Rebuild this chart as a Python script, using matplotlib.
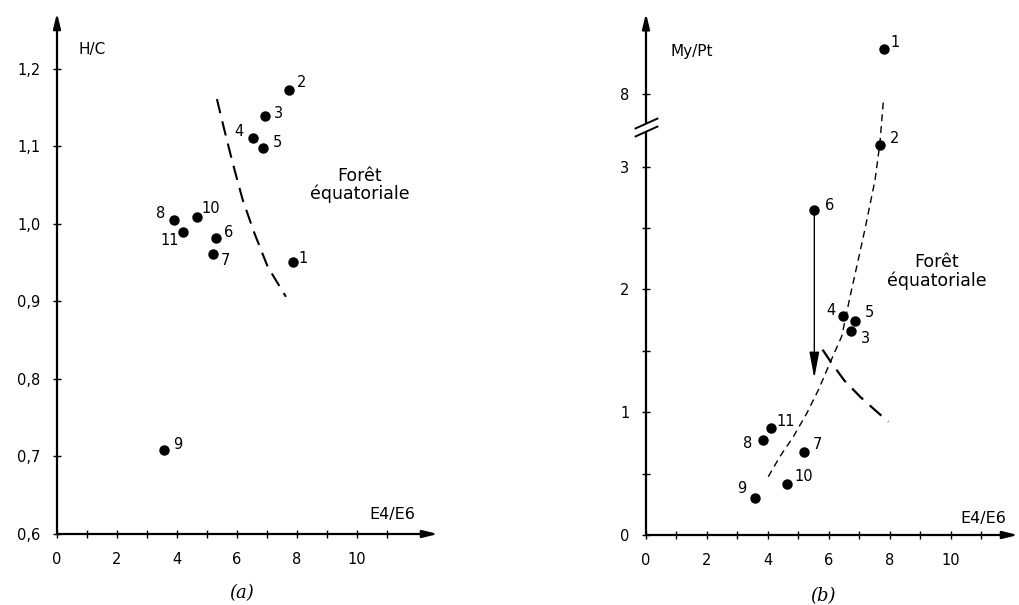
import numpy as np
import matplotlib.pyplot as plt
from matplotlib.ticker import FixedLocator

plt.rcParams['font.family'] = ['DejaVu Sans']

# numeros des echantillons
ids = ['1', '2', '3', '4', '5', '6', '7', '8', '9', '10', '11']

# (a) H/C en fonction de E4/E6
a_e4e6 = [7.85, 7.74, 6.92, 6.54, 6.85, 5.29, 5.19, 3.89, 3.56, 4.67, 4.21]
a_hc = [0.951, 1.173, 1.139, 1.111, 1.098, 0.982, 0.961, 1.005, 0.708, 1.009, 0.989]
a_limit_x = [5.33, 5.58, 5.86, 6.19, 6.58, 7.02, 7.63]
a_limit_y = [1.161, 1.121, 1.078, 1.031, 0.988, 0.945, 0.906]

# (b) My/Pt en fonction de E4/E6
b_e4e6 = [7.79, 7.66, 6.71, 6.45, 6.84, 5.52, 5.18, 3.83, 3.57, 4.64, 4.09]
b_mypt = [8.37, 3.18, 1.663, 1.787, 1.747, 2.646, 0.679, 0.774, 0.304, 0.418, 0.87]
b_trend_x = [4.01, 4.39, 4.83, 5.27, 5.65, 6.03, 6.42, 6.69, 6.95, 7.18,
             7.51, 7.67, 7.79]
b_trend_y = [0.475, 0.638, 0.80, 0.99, 1.18, 1.40, 1.62, 1.94, 2.23, 2.49,
             2.89, 3.19, 7.96]
b_limit_x = [5.79, 6.09, 6.5, 7.02, 7.5, 7.95]
b_limit_y = [1.51, 1.40, 1.26, 1.127, 1.02, 0.923]
b_shift_to = 1.277  # fleche depuis l'echantillon 6

a_yticks = [0.6, 0.7, 0.8, 0.9, 1.0, 1.1, 1.2]
a_ylabels = ['0,6', '0,7', '0,8', '0,9', '1,0', '1,1', '1,2']
b_yticks = [0, 1, 2, 3, 8]
b_ylabels = ['0', '1', '2', '3', '8']
b_yminor = [0.5, 1.5, 2.5]
xticks = [0, 2, 4, 6, 8, 10]
xminor = [1, 3, 5, 7, 9, 11]

# decalage des numeros (pixels, x vers la droite, y vers le bas)
a_off = [(11, -3), (12, -7), (14, -3), (-14, -6), (15, -5), (13, -5),
         (13, 6), (-13, -7), (14, -6), (14, -8), (-14, 8)]
b_off = [(12, -6), (15, -6), (15, 8), (-12, -5), (15, -8), (15, -5),
         (13, -7), (-15, 4), (-13, -9), (16, -7), (15, -7)]

# echelle coupee sur l'axe y de (b)
brk_lo, brk_hi = 3.29, 7.77
yb = [-100, brk_lo, brk_hi, 100]
ub = [-100, brk_lo, 3.36, 3.36 + 100 - brk_hi]


def fwd(y):
    return np.interp(y, yb, ub)


def inv(u):
    return np.interp(u, ub, yb)


fig = plt.figure(figsize=(10.19, 6.05), dpi=100)
ax1 = fig.add_axes([57 / 1019, 71 / 605, 381 / 1019, 521 / 605])
ax2 = fig.add_axes([646 / 1019, 70 / 605, 372 / 1019, 521.7 / 605])

arrow = dict(arrowstyle='-|>,head_length=0.9,head_width=0.22', color='k',
             lw=1.6, shrinkA=0, shrinkB=0)

for ax in (ax1, ax2):
    for s in ax.spines.values():
        s.set_visible(False)
    ax.set_xlim(0, 12.7 if ax is ax1 else 12.2)
    ax.set_xticks(xticks)
    ax.xaxis.set_minor_locator(FixedLocator(xminor))
    ax.tick_params(which='both', direction='inout', length=6, width=1,
                   labelsize=10.5, pad=9)
    ax.tick_params(axis='x', pad=10)
    ax.annotate('', xy=(1, 0), xytext=(0, 0), xycoords='axes fraction',
                arrowprops=arrow)

# ---- (a)
ax1.set_ylim(0.6, 1.272)
ax1.set_yticks(a_yticks)
ax1.set_yticklabels(a_ylabels)
ax1.annotate('', xy=(0, 1), xytext=(0, 0), xycoords='axes fraction',
             arrowprops=arrow)
ax1.plot(a_limit_x, a_limit_y, color='k', lw=1.5, dashes=(7, 4))
ax1.plot(a_e4e6, a_hc, 'o', color='k', ms=6.5)
for i, x, y, (dx, dy) in zip(ids, a_e4e6, a_hc, a_off):
    ax1.annotate(i, (x, y), xytext=(dx, -dy), textcoords='offset pixels',
                 ha='center', va='center', fontsize=10.5)
ax1.text(0.7, 1.225, 'H/C', fontsize=11, va='center')
ax1.text(11.95, 0.625, 'E4/E6', fontsize=11.5, ha='right', va='center')
ax1.text(10.1, 1.05, 'Forêt\néquatoriale', fontsize=12.5, ha='center',
         va='center', linespacing=1.0)

# ---- (b)
ax2.set_yscale('function', functions=(fwd, inv))
ax2.set_ylim(0, 8.66)
ax2.set_yticks(b_yticks)
ax2.set_yticklabels(b_ylabels)
ax2.yaxis.set_minor_locator(FixedLocator(b_yminor))
ax2.plot([0, 0], [0, brk_lo], color='k', lw=1.6, clip_on=False,
         solid_capstyle='butt')
ax2.annotate('', xy=(0, 1), xycoords='axes fraction', xytext=(0, brk_hi),
             textcoords='data', arrowprops=arrow)
slash = [(-1, -0.45), (1, 0.45)]
ax2.plot([0, 0], [brk_lo, brk_hi], ls='none', marker=slash, ms=17,
         mec='k', mew=1.4, clip_on=False)

ax2.plot(b_trend_x, b_trend_y, color='k', lw=1.0, dashes=(5, 3.5))
ax2.plot(b_limit_x, b_limit_y, color='k', lw=1.6, dashes=(7, 4))
ax2.annotate('', xy=(b_e4e6[5], b_shift_to), xytext=(b_e4e6[5], b_mypt[5]),
             arrowprops=dict(arrowstyle='-|>,head_length=1.6,head_width=0.3',
                             color='k', lw=1.0, shrinkA=0, shrinkB=0))
ax2.plot(b_e4e6, b_mypt, 'o', color='k', ms=6.5)
for i, x, y, (dx, dy) in zip(ids, b_e4e6, b_mypt, b_off):
    ax2.annotate(i, (x, y), xytext=(dx, -dy), textcoords='offset pixels',
                 ha='center', va='center', fontsize=10.5)
ax2.text(0.79, 8.35, 'My/Pt', fontsize=11, va='center')
ax2.text(11.8, 0.136, 'E4/E6', fontsize=11.5, ha='right', va='center')
ax2.text(9.53, 2.146, 'Forêt\néquatoriale', fontsize=12.5, ha='center',
         va='center', linespacing=1.0)

fig.text(242 / 1019, 1 - 593 / 605, '(a)', ha='center', va='center',
         family='DejaVu Serif', style='italic', fontsize=13)
fig.text(823 / 1019, 1 - 596 / 605, '(b)', ha='center', va='center',
         family='DejaVu Serif', style='italic', fontsize=13)

fig.savefig('out.png', dpi=100)
